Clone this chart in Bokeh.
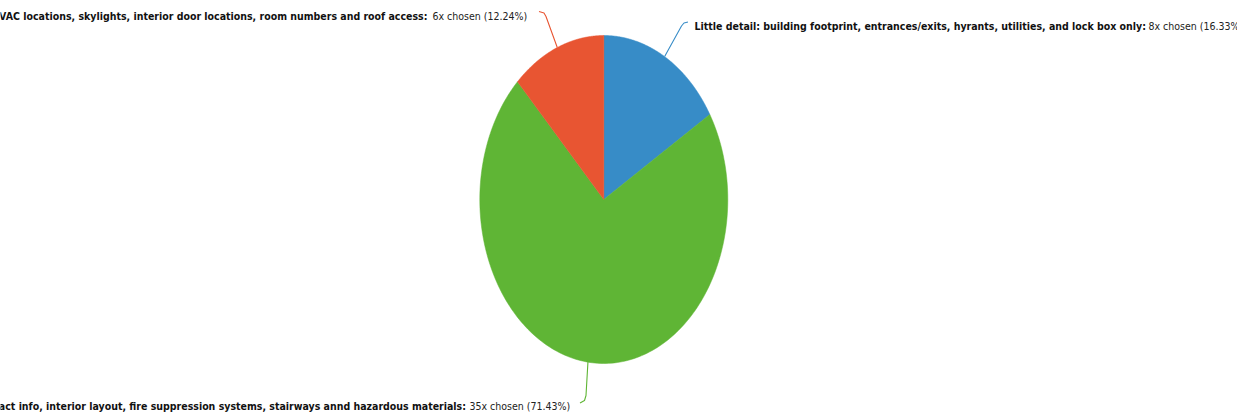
import numpy as np
from bokeh.plotting import figure
from bokeh.models import Range1d
from bokeh.core.properties import value
from bokeh.embed import file_html
from bokeh.resources import INLINE

# ---- data ----
categories = [
    "Little detail: building footprint, entrances/exits, hyrants, utilities, and lock box only:",
    "Great detail: building footprint, entrances/exits, hydrants, utilities, lock box, HVAC units, contact info, interior layout, fire suppression systems, stairways annd hazardous materials:",
    "Moderate detail: building footprint, entrances/exits, hydrants, utilities, lock box, HVAC locations, skylights, interior door locations, room numbers and roof access:",
]
counts = [8, 35, 6]
colors = ["#378cc7", "#5fb535", "#e85532"]

W, H = 1237, 418
p = figure(width=W, height=H, output_backend="svg", toolbar_location=None,
           x_range=Range1d(0, W), y_range=Range1d(H, 0), min_border=0)
p.axis.visible = False
p.grid.visible = False
p.outline_line_color = None
p.background_fill_color = "white"
p.border_fill_color = "white"

# pie layout (screen-like units)
cx, cy, rx, ry = 603.3, 199.0, 124.0, 164.0

total = sum(counts)
fracs = np.array(counts) / total
starts = np.concatenate([[0], np.cumsum(fracs)[:-1]])
ends = np.cumsum(fracs)

xs_list, ys_list = [], []
mids = []
for s, e in zip(starts, ends):
    t = np.linspace(s, e, 200) * 2 * np.pi  # clockwise from top
    xs = np.concatenate([[cx], cx + rx * np.sin(t), [cx]])
    ys = np.concatenate([[cy], cy - ry * np.cos(t), [cy]])
    xs_list.append(list(xs))
    ys_list.append(list(ys))
    m = (s + e) / 2 * 2 * np.pi
    mids.append((cx + rx * np.sin(m), cy - ry * np.cos(m)))

p.patches(xs_list, ys_list, fill_color=colors, line_color=colors, line_width=0.5)

# connectors: from slice edge midpoint to label
conn_tail = [
    [(681, 25.5), (683.5, 22.5), (687.5, 21.5)],
    [(585.5, 395), (584, 400), (579.5, 402.5)],
    [(545.5, 16), (543.5, 12.5), (538.5, 11)],
]
for (mx, my), tail, c in zip(mids, conn_tail, colors):
    xs = [mx] + [t[0] for t in tail]
    ys = [my] + [t[1] for t in tail]
    p.line(xs, ys, line_color=c, line_width=1.1)

FONT = "'Liberation Sans Narrow', 'DejaVu Sans Condensed', 'Open Sans'"
FS = "10.5px"

chosen = [f"{n}x chosen ({n / total * 100:.2f}%)" for n in counts]

# right label
p.text([1145.5], [25.5], text=[categories[0]], text_font=value(FONT), text_font_size=FS,
       text_font_style="bold", text_align="right", text_baseline="middle", text_color="#111111")
p.text([1148], [25.5], text=[chosen[0]], text_font=value(FONT), text_font_size=FS,
       text_align="left", text_baseline="middle", text_color="#222222")
# bottom label
p.text([465.5], [405.5], text=[categories[1]], text_font=value(FONT), text_font_size=FS,
       text_font_style="bold", text_align="right", text_baseline="middle", text_color="#111111")
p.text([469], [405.5], text=[chosen[1]], text_font=value(FONT), text_font_size=FS,
       text_align="left", text_baseline="middle", text_color="#222222")
# top-left label
p.text([427], [15], text=[categories[2]], text_font=value(FONT), text_font_size=FS,
       text_font_style="bold", text_align="right", text_baseline="middle", text_color="#111111")
p.text([432], [15], text=[chosen[2]], text_font=value(FONT), text_font_size=FS,
       text_align="left", text_baseline="middle", text_color="#222222")

open("out.html", "w").write(file_html(p, INLINE))
